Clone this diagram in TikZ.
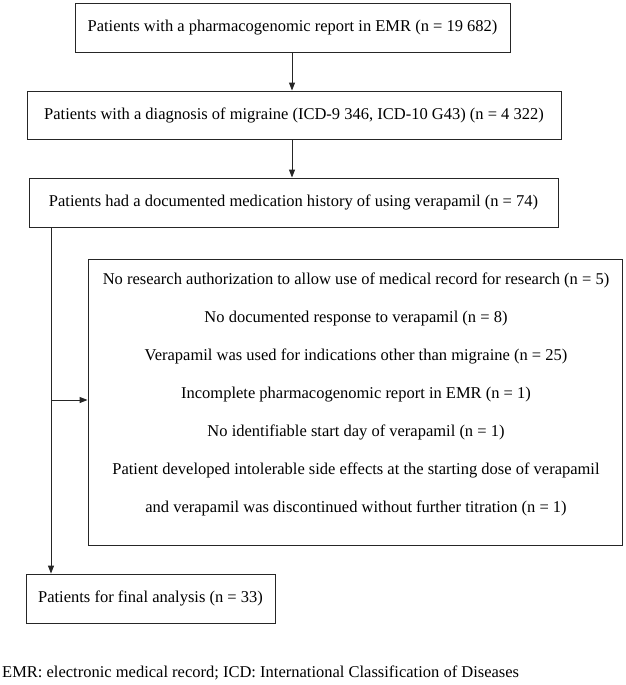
\documentclass[tikz,border=0pt]{standalone}
\usepackage{fontspec}
\setmainfont{Liberation Serif}
\usetikzlibrary{arrows.meta}
\begin{document}
\begin{tikzpicture}[x=1pt,y=-1pt,
  every node/.style={font=\fontsize{16.5}{20}\selectfont},
  flowbox/.style={draw=black!85, line width=0.9pt, inner sep=0pt, text height=11.5pt, text depth=3.5pt},
  conn/.style={draw=black!85, line width=0.9pt},
  arr/.style={conn, -{Triangle[length=8pt,width=6pt]}}]
\useasboundingbox (0,0) rectangle (625,685);
\node[flowbox, minimum width=435pt, minimum height=49pt] (b1) at (292.5,27.5)
  {Patients with a pharmacogenomic report in EMR (n = 19 682)};
\node[flowbox, minimum width=534pt, minimum height=48pt] (b2) at (294,115)
  {Patients with a diagnosis of migraine (ICD-9 346, ICD-10 G43) (n = 4 322)};
\node[flowbox, minimum width=529pt, minimum height=49pt] (b3) at (293.5,202.5)
  {Patients had a documented medication history of using verapamil (n = 74)};
\node[flowbox, minimum width=534pt, minimum height=286pt] (ex) at (355,402) {};
\node[align=center, inner sep=0pt, font=\fontsize{16.5}{38}\selectfont] (ext) at (356,394)
  {No research authorization to allow use of medical record for research (n = 5)\\
   No documented response to verapamil (n = 8)\\
   Verapamil was used for indications other than migraine (n = 25)\\
   Incomplete pharmacogenomic report in EMR (n = 1)\\
   No identifiable start day of verapamil (n = 1)\\
   Patient developed intolerable side effects at the starting dose of verapamil\\
   and verapamil was discontinued without further titration (n = 1)};
\node[flowbox, minimum width=249pt, minimum height=49pt] (fin) at (150.5,598.5)
  {Patients for final analysis (n = 33)};
\node[anchor=west, inner sep=0pt] (note) at (2,673)
  {EMR: electronic medical record; ICD: International Classification of Diseases};
\coordinate (split) at (51,400);
\draw[arr] (b1.south -| 292,0) -- (b2.north -| 292,0);
\draw[arr] (b2.south -| 292,0) -- (b3.north -| 292,0);
\draw[arr] (b3.south -| split) -- (fin.north -| split);
\draw[arr] (split) -- (ex.west |- split);
\end{tikzpicture}
\end{document}
